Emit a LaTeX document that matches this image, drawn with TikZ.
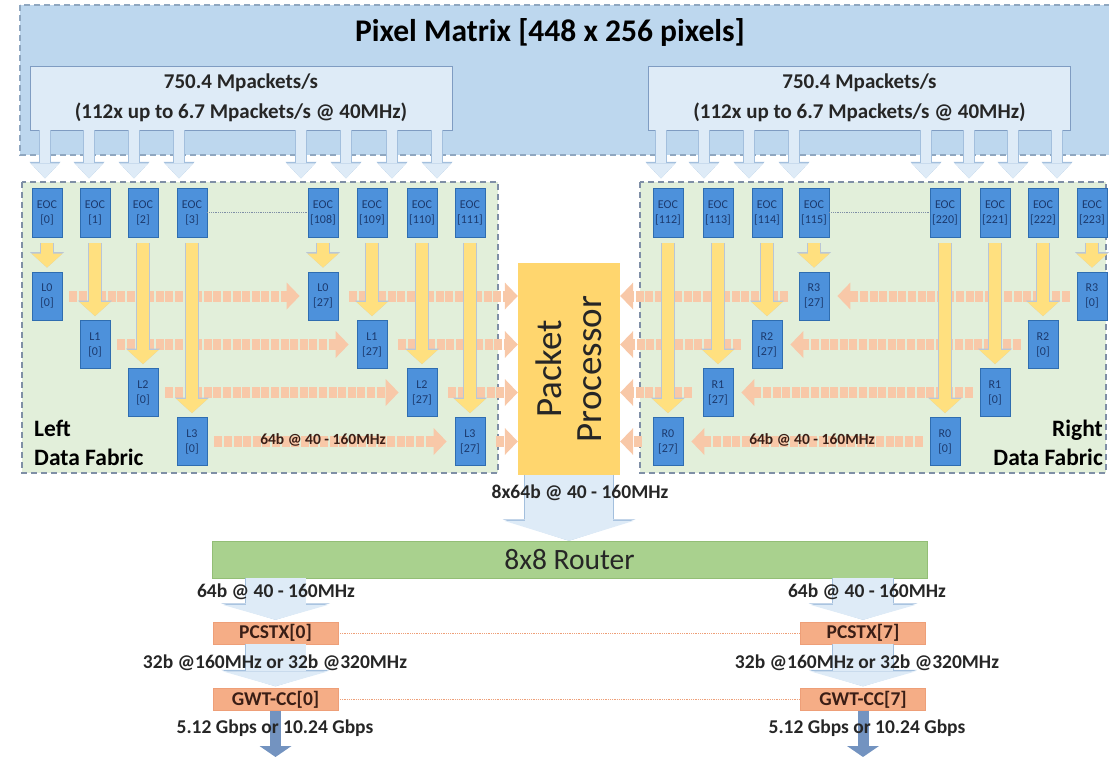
\documentclass[tikz,border=0pt]{standalone}
\usepackage{fontspec}
\setmainfont{Carlito}
\usetikzlibrary{arrows.meta}
\definecolor{pixfill}{HTML}{BDD7EE}
\definecolor{pixline}{HTML}{8FA7C0}
\definecolor{pktfill}{HTML}{DEEBF7}
\definecolor{pktline}{HTML}{7F9CC2}
\definecolor{feedline}{HTML}{A3BFDD}
\definecolor{fabfill}{HTML}{E2EFDA}
\definecolor{fabline}{HTML}{7F8FA6}
\definecolor{cellfill}{HTML}{4D91DB}
\definecolor{celline}{HTML}{2F6DB0}
\definecolor{celltext}{HTML}{1C3A6E}
\definecolor{yfill}{HTML}{FFE07F}
\definecolor{yline}{HTML}{B9C6D6}
\definecolor{ofill}{HTML}{F8C8A8}
\definecolor{procfill}{HTML}{FFD66E}
\definecolor{routfill}{HTML}{A9D18E}
\definecolor{routline}{HTML}{93BE76}
\definecolor{txfill}{HTML}{F5AD86}
\definecolor{txline}{HTML}{EE9F78}
\definecolor{txtext}{HTML}{3A1E16}
\definecolor{outfill}{HTML}{7393C0}
\definecolor{ink}{HTML}{262626}

\begin{document}
\begin{tikzpicture}[x=1pt, y=-1pt, text=ink,
  area/.style={draw=#1, line width=1.1pt, dash pattern=on 6pt off 4pt},
  pkt/.style={draw=pktline, fill=pktfill, line width=0.9pt, minimum width=422pt, minimum height=64pt, align=center, font=\bfseries\fontsize{21}{30}\selectfont},
  cell/.style={draw=celline, fill=cellfill, line width=0.8pt, minimum width=30pt, minimum height=48pt, inner sep=0pt, align=center, text=celltext, font=\fontsize{12}{15}\selectfont},
  proc/.style={fill=procfill, minimum width=212pt, minimum height=102pt, rotate=90, align=center, inner sep=0pt, font=\fontsize{37}{40}\selectfont},
  rout/.style={draw=routline, fill=routfill, minimum width=715pt, minimum height=37pt, inner sep=0pt, font=\fontsize{29.5}{32}\selectfont},
  txbox/.style={draw=txline, fill=txfill, minimum width=125pt, minimum height=22pt, inner sep=0pt, text=txtext, font=\bfseries\fontsize{19.5}{20}\selectfont},
  fablbl/.style={font=\bfseries\fontsize{23.5}{29}\selectfont, text=black, inner sep=0pt},
  lbl/.style={font=\bfseries\fontsize{19.5}{22}\selectfont},
  rowlbl/.style={font=\bfseries\fontsize{15.5}{17}\selectfont, text=txtext},
  link/.style={draw=#1, line width=0.8pt, densely dotted},
  feed/.style={draw=pktfill, line width=10pt, -{Triangle[width=28pt,length=15pt,line width=0pt]}, preaction={draw=feedline, line width=12pt, -{Triangle[width=31pt,length=16.5pt,line width=0pt]}}},
  yarr/.style={draw=yfill, line width=12pt, shorten <=6pt, shorten >=4pt, -{Triangle[width=31pt,length=14pt,line width=0pt]}, preaction={draw=yline, line width=13.6pt, -{Triangle[width=34pt,length=15.5pt,line width=0pt]}}},
  oarr/.style={draw=ofill, line width=11pt, dash pattern=on 8pt off 1.6pt, shorten <=7pt, shorten >=8pt, -{Triangle[width=27pt,length=13pt,line width=0pt]}},
  outbus/.style={draw=pktfill, line width=88pt, -{Triangle[width=130pt,length=20pt,line width=0pt]}, preaction={draw=feedline, line width=89.6pt, -{Triangle[width=133pt,length=21.5pt,line width=0pt]}}},
  txbus/.style={draw=pktfill, line width=60pt, shorten >=2pt, -{Triangle[width=106pt,length=15pt,line width=0pt]}, preaction={draw=feedline, line width=61.6pt, -{Triangle[width=109pt,length=16.5pt,line width=0pt]}}},
  serial/.style={draw=outfill, line width=11pt, -{Triangle[width=32pt,length=11pt,line width=0pt]}}]
\useasboundingbox (0,0) rectangle (1109,757);
\draw[area=pixline, fill=pixfill] (20,5) rectangle (1115,155);
\node[font=\bfseries\fontsize{31.5}{34}\selectfont, text=black] (title) at (550,32) {Pixel Matrix [448 x 256 pixels]};
\node[pkt] (pktL) at (241,98) {750.4 Mpackets/s\\(112x up to 6.7 Mpackets/s @ 40MHz)};
\node[pkt] (pktR) at (859.5,98) {750.4 Mpackets/s\\(112x up to 6.7 Mpackets/s @ 40MHz)};
\foreach \x in {45,89,134,179,301,346,392,437} \draw[feed] (pktL.south -| \x,0) -- ++(0,48);
\foreach \x in {661,704,749,794,926,969,1013,1057} \draw[feed] (pktR.south -| \x,0) -- ++(0,48);
\draw[area=fabline, fill=fabfill] (22,182) rectangle (498,473);
\draw[area=fabline, fill=fabfill] (640,182) rectangle (1106,473);
\node[fablbl, anchor=west, align=left] (fabL) at (34,443) {Left\\Data Fabric};
\node[fablbl, anchor=east, align=right] (fabR) at (1103,443) {Right\\Data Fabric};
\node[proc] (proc) at (569,369) {Packet\\Processor};
\foreach \x/\n in {47/0,95/1,143/2,192/3,323/108,372/109,422/110,470/111,668/112,718/113,767/114,814/115,945/220,995/221,1043/222,1092/223}
  \node[cell, minimum height=49pt] (eoc\n) at (\x,212.5) {EOC\\{[\n]}};
\foreach \x/\y/\r/\c in {47/296/L0/0,95/344.5/L1/0,143/392.5/L2/0,192/441.5/L3/0,323/296/L0/27,372/344.5/L1/27,422/392.5/L2/27,470/441.5/L3/27,814/296/R3/27,767/344.5/R2/27,718/392.5/R1/27,668/441.5/R0/27,1092/296/R3/0,1043/344.5/R2/0,995/392.5/R1/0,945/441.5/R0/0}
  \node[cell] (\r x\c) at (\x,\y) {\r\\{[\c]}};
\draw[link=fabline] (eoc3) -- (eoc108);
\draw[link=fabline] (eoc115) -- (eoc220);
\foreach \a/\b in {L0x0/L0x27,L1x0/L1x27,L2x0/L2x27,L3x0/L3x27,R3x0/R3x27,R2x0/R2x27,R1x0/R1x27,R0x0/R0x27}
  \draw[oarr] (\a) -- (\b);
\foreach \a in {L0x27,L1x27,L2x27,L3x27} \draw[oarr, shorten <=11pt, shorten >=0pt] (\a) -- (proc.north |- \a);
\foreach \a in {R3x27,R2x27,R1x27,R0x27} \draw[oarr, shorten <=11pt, shorten >=0pt] (\a) -- (proc.south |- \a);
\foreach \n/\t in {0/L0x0,1/L1x0,2/L2x0,3/L3x0,108/L0x27,109/L1x27,110/L2x27,111/L3x27,115/R3x27,114/R2x27,113/R1x27,112/R0x27,223/R3x0,222/R2x0,221/R1x0,220/R0x0}
  \draw[yarr] (eoc\n) -- (\t);
\node[rowlbl] (rateL) at (323,440) {64b @ 40 - 160MHz};
\node[rowlbl] (rateR) at (812,440) {64b @ 40 - 160MHz};
\node[rout] (router) at (569.5,559.5) {8x8 Router};
\draw[outbus] (proc.west) -- (router.north -| proc.west);
\node[lbl] (busrate) at (580,493) {8x64b @ 40 - 160MHz};
\node[txbox] (pcstx0) at (275.5,633) {PCSTX[0]};
\node[txbox] (pcstx7) at (863,633) {PCSTX[7]};
\node[txbox] (gwt0) at (275.5,699.5) {GWT-CC[0]};
\node[txbox] (gwt7) at (863,699.5) {GWT-CC[7]};
\draw[link=txline] (pcstx0) -- (pcstx7);
\draw[link=txline] (gwt0) -- (gwt7);
\draw[txbus] (router.south -| pcstx0) -- (pcstx0.north);
\draw[txbus] (router.south -| pcstx7) -- (pcstx7.north);
\draw[txbus] (pcstx0) -- (gwt0);
\draw[txbus] (pcstx7) -- (gwt7);
\coordinate (out0) at (275.5,757);
\coordinate (out7) at (863,757);
\draw[serial] (gwt0) -- (out0);
\draw[serial] (gwt7) -- (out7);
\node[lbl] (rate0) at (276,592) {64b @ 40 - 160MHz};
\node[lbl] (rate7) at (867,592) {64b @ 40 - 160MHz};
\node[lbl] (ser0) at (275,663) {32b @160MHz or 32b @320MHz};
\node[lbl] (ser7) at (867,663) {32b @160MHz or 32b @320MHz};
\node[lbl] (link0) at (275,728) {5.12 Gbps or 10.24 Gbps};
\node[lbl] (link7) at (867,728) {5.12 Gbps or 10.24 Gbps};
\end{tikzpicture}
\end{document}
